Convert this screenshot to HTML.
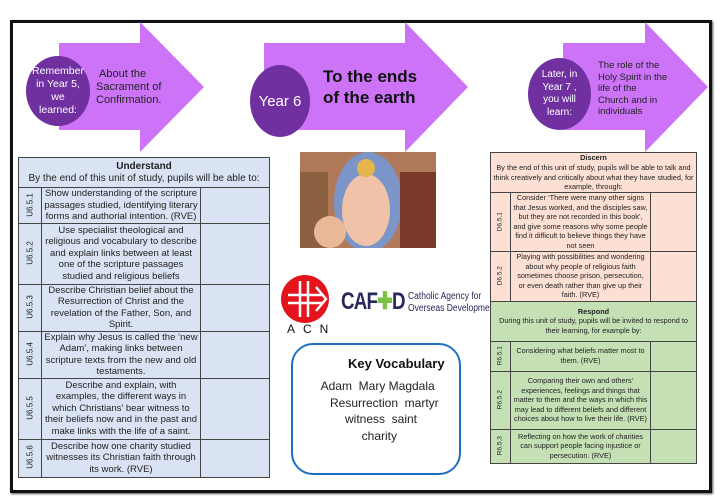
<!DOCTYPE html>
<html><head><meta charset="utf-8"><style>
*{box-sizing:border-box;margin:0;padding:0}
body{width:720px;height:500px;background:#fff;position:relative;font-family:"Liberation Sans Narrow","Liberation Sans",sans-serif;overflow:hidden}
.frame{position:absolute;left:10px;top:20px;width:702px;height:473px;border:3px solid #111;box-shadow:1px 1px 2px #555}
.abs{position:absolute}
.circ{position:absolute;border-radius:50%;background:#7030a0;color:#fff;display:flex;align-items:center;justify-content:center;text-align:center;font-size:10.5px;line-height:13px}
table{position:absolute;border-collapse:collapse;table-layout:fixed;font-size:9.5px;line-height:11.5px;text-align:center;color:#222}
td{border:1px solid #444;padding:0 2px;overflow:hidden}
.lab{font-size:8px;padding:0}
.lab div{transform:rotate(-90deg);white-space:nowrap}
</style></head><body>
<div class="frame"></div>
<svg class="abs" style="left:0;top:0" width="720" height="160">
<polygon points="59,43 140,43 140,22 204,87 140,152 140,130 59,130" fill="#cc73f8"/>
<polygon points="264,43 405,43 405,22 468,87 405,152 405,130 264,130" fill="#cc73f8"/>
<polygon points="563,43 645,43 645,22 708,87 645,152 645,130 563,130" fill="#cc73f8"/>
</svg>
<div class="circ" style="left:26px;top:56px;width:64px;height:70px;padding:0 6px">Remember in Year 5, we learned:</div>
<div class="abs" style="left:96px;top:68px;font-size:11px;line-height:13px;color:#222">&nbsp;About the<br>Sacrament of<br>Confirmation.</div>
<div class="circ" style="left:250px;top:65px;width:60px;height:72px;font-size:15px">Year 6</div>
<div class="abs" style="left:323px;top:66px;font-size:17px;line-height:21px;font-weight:bold;color:#111">To the ends<br>of the earth</div>
<div class="circ" style="left:528px;top:58px;width:63px;height:72px;font-size:10px;line-height:12.5px;padding:0 8px">Later, in Year 7 , you will learn:</div>
<div class="abs" style="left:598px;top:60px;font-size:9.5px;line-height:11.5px;color:#222">The role of the<br>Holy Spirit in the<br>life of the<br>Church and in<br>individuals</div>

<table style="left:18px;top:157px;width:252px;background:#dae3f3">
<colgroup><col style="width:23px"><col style="width:159px"><col></colgroup>
<tr style="height:30px"><td colspan="3" style="font-size:10px"><b>Understand</b><br>By the end of this unit of study, pupils will be able to:</td></tr>
<tr style="height:35px"><td class="lab"><div>U6.5.1</div></td><td>Show understanding of the scripture passages studied, identifying literary forms and authorial intention. (RVE)</td><td></td></tr>
<tr style="height:61px"><td class="lab"><div>U6.5.2</div></td><td>Use specialist theological and religious and vocabulary to describe and explain links between at least one of the scripture passages studied and religious beliefs</td><td></td></tr>
<tr style="height:47px"><td class="lab"><div>U6.5.3</div></td><td>Describe Christian belief about the Resurrection of Christ and the revelation of the Father, Son, and Spirit.</td><td></td></tr>
<tr style="height:47px"><td class="lab"><div>U6.5.4</div></td><td>Explain why Jesus is called the ‘new Adam’, making links between scripture texts from the new and old testaments.</td><td></td></tr>
<tr style="height:61px"><td class="lab"><div>U6.5.5</div></td><td>Describe and explain, with examples, the different ways in which Christians’ bear witness to their beliefs now and in the past and make links with the life of a saint.</td><td></td></tr>
<tr style="height:38px"><td class="lab"><div>U6.5.6</div></td><td>Describe how one charity studied witnesses its Christian faith through its work. (RVE)</td><td></td></tr>
</table>

<svg class="abs" style="left:300px;top:152px" width="136" height="96">
<rect width="136" height="96" fill="#b07a5a"/>
<ellipse cx="68" cy="50" rx="34" ry="50" fill="#7c95c8"/>
<ellipse cx="66" cy="58" rx="24" ry="36" fill="#f0c3a8"/>
<circle cx="66" cy="16" r="9" fill="#e3b54a"/>
<rect x="0" y="20" width="28" height="76" fill="#8a6040"/>
<rect x="100" y="20" width="36" height="76" fill="#7a3a2a"/>
<ellipse cx="30" cy="80" rx="16" ry="16" fill="#e8b898"/>
</svg>
<svg class="abs" style="left:280px;top:275px" width="60" height="60">
<circle cx="25" cy="24" r="24" fill="#e3141b"/>
<g stroke="#fff" stroke-width="2.5" fill="none"><line x1="20" y1="6" x2="20" y2="42"/><line x1="28" y1="6" x2="28" y2="42"/><line x1="8" y1="20" x2="42" y2="20"/><line x1="8" y1="28" x2="42" y2="28"/><polyline points="36,12 46,24 36,36"/></g>
</svg>
<div class="abs" style="left:287px;top:322px;font-size:12px;letter-spacing:8px;color:#111;font-family:'Liberation Sans',sans-serif">ACN</div>
<div class="abs" style="left:341px;top:287px;font-size:24px;font-weight:bold;color:#27285b;letter-spacing:-1px;transform:scaleX(0.78);transform-origin:left;white-space:nowrap">CAF<span style="color:#7bc143">✚</span>D</div>
<div class="abs" style="left:408px;top:291px;font-size:10px;line-height:12px;color:#27285b;white-space:nowrap;transform:scaleX(0.85);transform-origin:left">Catholic Agency for<br>Overseas Development</div>
<div class="abs" style="left:291px;top:343px;width:170px;height:132px;border:2.5px solid #1f6fc4;border-radius:22px"></div>
<div class="abs" style="left:348px;top:356px;font-size:13px;font-weight:bold;color:#111;font-family:'Liberation Sans',sans-serif">Key Vocabulary</div>
<div class="abs" style="left:291px;top:378px;width:170px;font-size:12px;line-height:16.5px;color:#222;text-align:center;font-family:'Liberation Sans',sans-serif">&nbsp;Adam &nbsp;Mary Magdala<br>&nbsp;&nbsp;&nbsp;&nbsp;&nbsp;Resurrection &nbsp;martyr<br>&nbsp;&nbsp;&nbsp;witness &nbsp;saint<br>&nbsp;&nbsp;charity</div>

<table style="left:490px;top:152px;width:207px;font-size:7.3px;line-height:9.6px">
<colgroup><col style="width:20px"><col style="width:140px"><col></colgroup>
<tr style="height:40px;background:#fbe0d3"><td colspan="3"><b>Discern</b><br>By the end of this unit of study, pupils will be able to talk and think creatively and critically about what they have studied, for example, through:</td></tr>
<tr style="height:58px;background:#fbe0d3"><td class="lab" style="font-size:6.5px"><div>D6.5.1</div></td><td>Consider ‘There were many other signs that Jesus worked, and the disciples saw, but they are not recorded in this book’, and give some reasons why some people find it difficult to believe things they have not seen</td><td></td></tr>
<tr style="height:50px;background:#fbe0d3"><td class="lab" style="font-size:6.5px"><div>D6.5.2</div></td><td>Playing with possibilities and wondering about why people of religious faith sometimes choose prison, persecution, or even death rather than give up their faith. (RVE)</td><td></td></tr>
<tr style="height:40px;background:#c5e0b4"><td colspan="3"><b>Respond</b><br>During this unit of study, pupils will be invited to respond to their learning, for example by:</td></tr>
<tr style="height:30px;background:#c5e0b4"><td class="lab" style="font-size:6.5px"><div>R6.5.1</div></td><td>Considering what beliefs matter most to them. (RVE)</td><td></td></tr>
<tr style="height:58px;background:#c5e0b4"><td class="lab" style="font-size:6.5px"><div>R6.5.2</div></td><td>Comparing their own and others’ experiences, feelings and things that matter to them and the ways in which this may lead to different beliefs and different choices about how to live their life. (RVE)</td><td></td></tr>
<tr style="height:34px;background:#c5e0b4"><td class="lab" style="font-size:6.5px"><div>R6.5.3</div></td><td>Reflecting on how the work of charities can support people facing injustice or persecution. (RVE)</td><td></td></tr>
</table>
</body></html>
